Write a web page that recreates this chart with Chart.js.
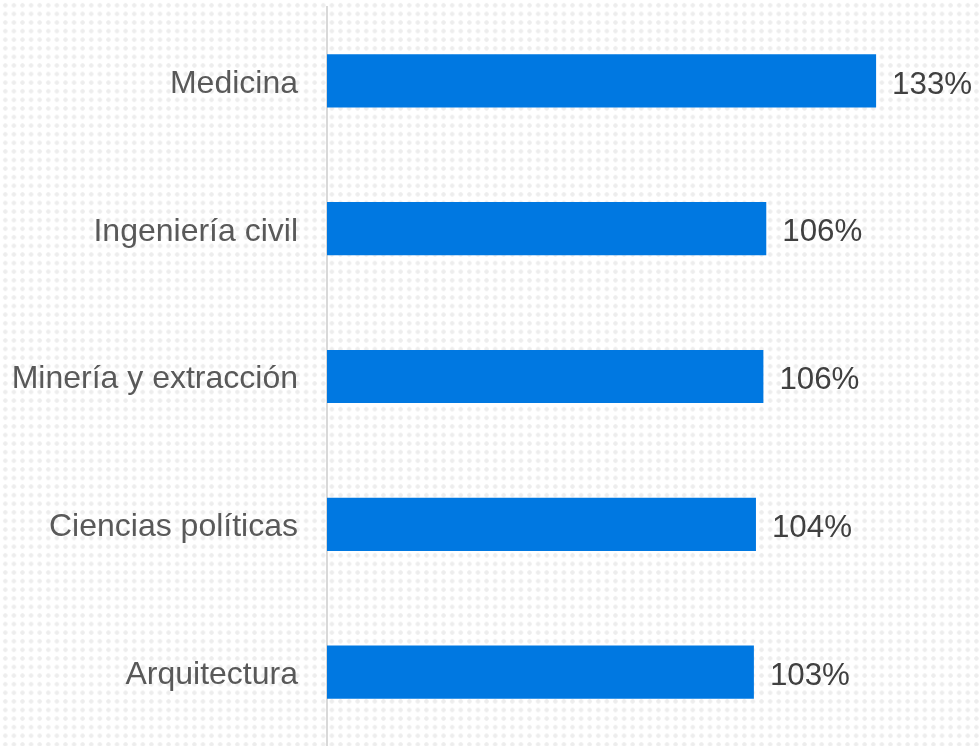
<!DOCTYPE html>
<html>
<head>
    <meta charset="utf-8">
    <title>Carreras</title>
    <style type="text/css">
        html, body {
            margin: 0;
            padding: 0;
            background-color: #ffffff;
            background-image: radial-gradient(circle, #ededed 1.8px, transparent 2.6px);
            background-size: 8.6px 8.6px;
            background-position: 1px 1px;
        }
        #wrap {
            width: 979px;
            height: 746px;
            position: relative;
        }
    </style>
    <script src="https://cdn.jsdelivr.net/npm/chart.js@4.4.1/dist/chart.umd.min.js"></script>
</head>
<body>
    <div id="wrap">
        <canvas id="Chart"></canvas>
    </div>
    <script>
        // Data
        var categories = ['Medicina', 'Ingeniería civil', 'Minería y extracción', 'Ciencias políticas', 'Arquitectura'];
        var values = [133, 106.4, 105.7, 103.9, 103.4];
        var valueLabels = ['133%', '106%', '106%', '104%', '103%'];

        // value labels at the end of each bar
        var barLabels = {
            id: 'barLabels',
            afterDatasetsDraw: function(chart) {
                var ctx = chart.ctx;
                var meta = chart.getDatasetMeta(0);
                ctx.save();
                ctx.font = '31.3px "Liberation Sans", Arial, sans-serif';
                ctx.fillStyle = '#404040';
                ctx.textAlign = 'left';
                ctx.textBaseline = 'middle';
                meta.data.forEach(function(bar, i) {
                    ctx.fillText(valueLabels[i], bar.x + 16, bar.y + 4);
                });
                ctx.restore();
            }
        };

        var ctx = document.getElementById('Chart').getContext('2d');
        var chart = new Chart(ctx, {
            type: 'bar',
            data: {
                labels: categories,
                datasets: [{
                    data: values,
                    backgroundColor: '#0078e1',
                    borderWidth: 0,
                    barPercentage: 0.36,
                    categoryPercentage: 1
                }]
            },
            options: {
                indexAxis: 'y',
                responsive: true,
                maintainAspectRatio: false,
                animation: false,
                layout: {
                    padding: { top: 7, right: 74, bottom: 0, left: 0 }
                },
                plugins: {
                    legend: { display: false },
                    tooltip: { enabled: false }
                },
                scales: {
                    x: {
                        display: false,
                        min: 0,
                        max: 140
                    },
                    y: {
                        afterFit: function(scale) {
                            scale.width = 327;
                            scale.paddingTop = 0;
                            scale.paddingBottom = 0;
                        },
                        grid: { display: false, drawTicks: false },
                        border: { display: true, color: '#d9d9d9', width: 2 },
                        ticks: {
                            padding: 29,
                            labelOffset: 3,
                            color: '#595959',
                            font: { family: '"Liberation Sans", Arial, sans-serif', size: 32 }
                        }
                    }
                }
            },
            plugins: [barLabels]
        });
    </script>
</body>
</html>
